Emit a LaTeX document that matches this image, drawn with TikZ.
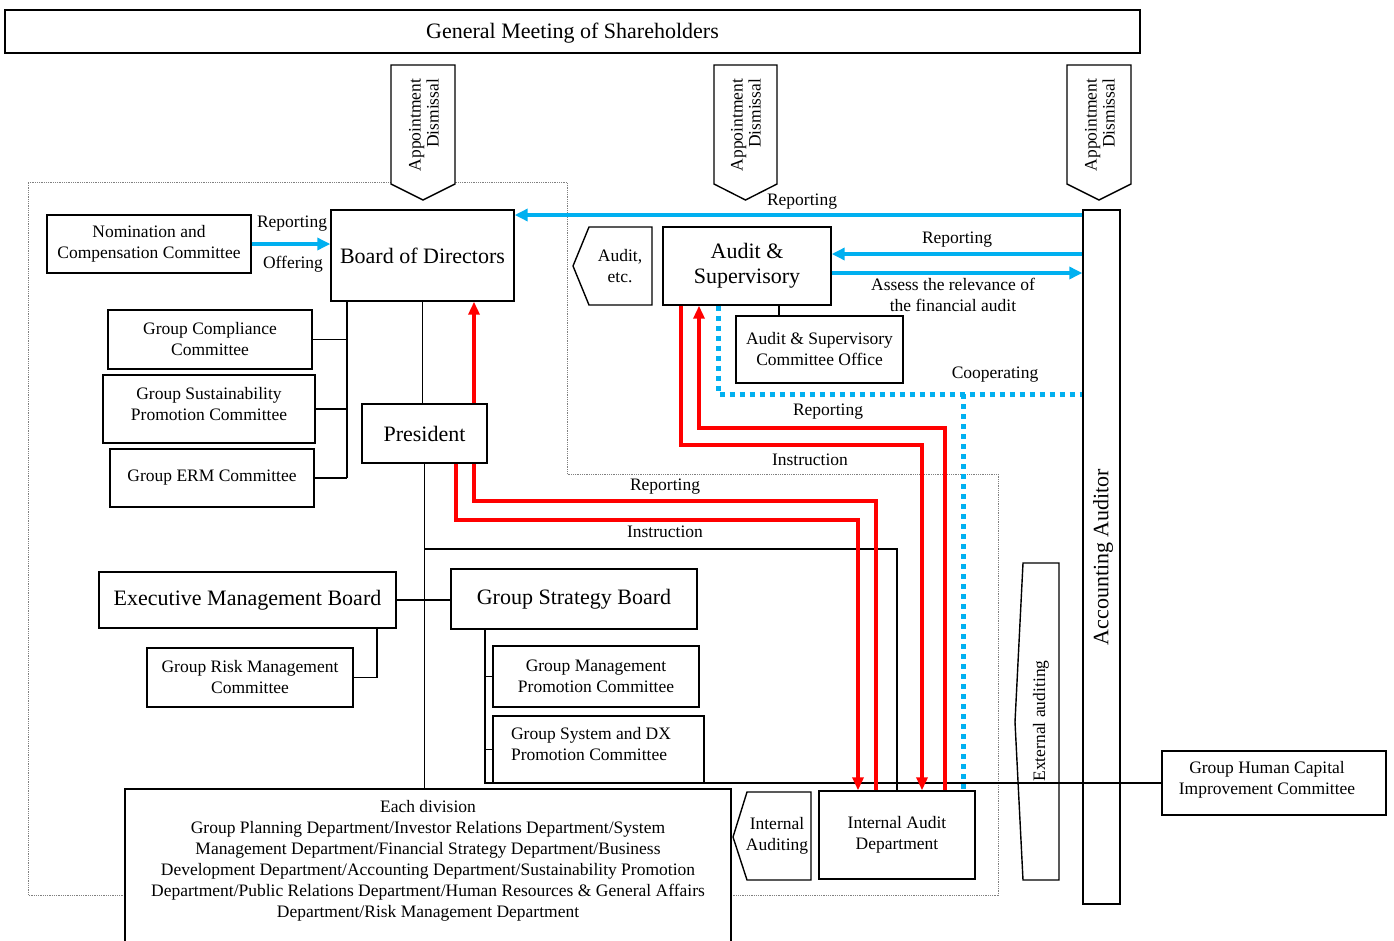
\documentclass[tikz,border=0pt]{standalone}
\usepackage{fontspec}
\setmainfont{Liberation Serif}
\usetikzlibrary{arrows.meta}
\definecolor{cblue}{HTML}{00B0F0}
\definecolor{cred}{HTML}{FF0000}
\newcommand\FontSmall{\fontsize{17.5}{21}\selectfont}
\newcommand\FontLarge{\fontsize{22}{25}\selectfont}
\newcommand\FontRot{\fontsize{17.5}{18}\selectfont}
\begin{document}
\begin{tikzpicture}[x=1pt,y=-1pt,
  box/.style={draw, line width=1.4pt, fill=white, inner sep=0pt, align=center, font=\FontSmall},
  bigbox/.style={box, font=\FontLarge},
  shp/.style={draw, line width=1.4pt, fill=white, line join=miter},
  conn/.style={draw, line width=1.2pt},
  redl/.style={draw=cred, line width=3.5pt},
  redarr/.style={redl, -{Triangle[length=13pt,width=11pt]}},
  bluearr/.style={draw=cblue, line width=3.5pt, -{Triangle[length=13pt,width=12pt]}},
  bluedot/.style={draw=cblue, line width=5pt, dash pattern=on 5pt off 5pt},
  lbl/.style={font=\FontSmall, inner sep=0pt, align=center},
  bound/.style={draw=gray, line width=0.8pt, densely dotted}
]
\useasboundingbox (0,0) rectangle (1394,940);
\fill[white] (0,0) rectangle (1394,940);
\clip (0,0) rectangle (1394,940);

% helper coordinates
\foreach \xx in {347,377,456,474,485,681,699,718,779,858,876,897,922,945,963}{\coordinate (x\xx) at (\xx,0);}
\foreach \yy in {215,254,273,394,428,445,501,520,549}{\coordinate (y\yy) at (0,\yy);}

% dotted boundary
\draw[bound] (28,182) -- (567,182) -- (567,474) -- (998,474) -- (998,895) -- (28,895) -- cycle;

% general meeting
\node[box, minimum width=1135, minimum height=43] (gm) at (572.5,31.5) {};
\node[lbl, font=\fontsize{22}{25}\selectfont] (gmt) at (572.5,33) {General Meeting of Shareholders};

% appointment pentagons
\draw[shp] (391,65) -- (455,65) -- (455,184) -- (423,200) -- (391,184) -- cycle;
\node[rotate=90, align=right, font=\FontRot] (ap1) at (424,125) {Appointment\\Dismissal};
\draw[shp] (714,65) -- (777,65) -- (777,184) -- (745.5,200) -- (714,184) -- cycle;
\node[rotate=90, align=right, font=\FontRot] (ap2) at (746,125) {Appointment\\Dismissal};
\draw[shp] (1067,65) -- (1131,65) -- (1131,184) -- (1099,200) -- (1067,184) -- cycle;
\node[rotate=90, align=right, font=\FontRot] (ap3) at (1100,125) {Appointment\\Dismissal};

% boxes
\node[box, minimum width=204, minimum height=58] (nom) at (149,244) {Nomination and\\Compensation Committee};
\node[bigbox, minimum width=183, minimum height=91] (bod) at (422.5,255.5) {Board of Directors};
\node[box, minimum width=204, minimum height=59] (gcc) at (210,339.5) {Group Compliance\\Committee};
\node[box, minimum width=212, minimum height=68] (gsp) at (209,409) {};
\node[lbl] (gspt) at (209,404) {Group Sustainability\\Promotion Committee};
\node[box, minimum width=204, minimum height=58] (erm) at (212,478) {Group ERM Committee};
\node[bigbox, minimum width=125, minimum height=59] (pres) at (424.5,433.5) {President};
\node[bigbox, minimum width=297, minimum height=56] (emb) at (247.5,600) {Executive Management Board};
\node[box, minimum width=206, minimum height=59] (grm) at (250,677.5) {Group Risk Management\\Committee};
\node[bigbox, minimum width=246, minimum height=60] (gsb) at (574,599) {Group Strategy Board};
\node[box, minimum width=206, minimum height=61] (gmp) at (596,676.5) {Group Management\\Promotion Committee};
\node[box, minimum width=211, minimum height=67] (gdx) at (598.5,749.5) {};
\node[lbl, align=left] (gdxt) at (591,744) {Group System and DX\\Promotion Committee};
\node[box, minimum width=606, minimum height=171] (div) at (428,874.5) {};
\node[lbl] (divt) at (428,861) {Each division\\Group Planning Department/Investor Relations Department/System\\Management Department/Financial Strategy Department/Business\\Development Department/Accounting Department/Sustainability Promotion\\Department/Public Relations Department/Human Resources \& General Affairs\\Department/Risk Management Department};
\node[box, minimum width=156, minimum height=88] (iad) at (897,835) {Internal Audit\\Department};
\node[bigbox, minimum width=168, minimum height=78] (as) at (747,266) {Audit \&\\Supervisory};
\node[box, minimum width=167, minimum height=67] (aso) at (819.5,349.5) {Audit \& Supervisory\\Committee Office};
\node[draw, line width=1.4pt, fill=white, inner sep=0pt, minimum width=37, minimum height=694] (aa) at (1101.5,557) {};
\node[rotate=90, font=\FontLarge, inner sep=0pt] (aat) at (1103,557) {Accounting Auditor};
\node[box, minimum width=224, minimum height=64] (ghc) at (1274,783) {};
\node[lbl] (ghct) at (1267,780) {Group Human Capital\\Improvement Committee};

% side pentagons
\draw[shp] (573,266) -- (589,227) -- (652,227) -- (652,305) -- (589,305) -- cycle;
\node[lbl] (aud) at (620,266) {Audit,\\etc.};
\draw[shp] (733,837) -- (747,792) -- (811,792) -- (811,880) -- (747,880) -- cycle;
\node[lbl] (ina) at (777,836) {Internal\\Auditing};
\draw[shp] (1023,563) -- (1059,563) -- (1059,880) -- (1023,880) -- (1015,722) -- cycle;
\node[rotate=90, font=\FontSmall, inner sep=0pt] (ext) at (1041,721) {External auditing};

% black connectors
\draw[conn] (bod.south -| x347) -- (x347 |- erm.east);
\draw[conn] (gcc.east) -- (gcc.east -| x347);
\draw[conn] (gsp.east) -- (gsp.east -| x347);
\draw[conn] (erm.east) -- (erm.east -| x347);
\draw[conn] (bod.south) -- (bod.south |- pres.north);
\draw[conn] (pres.south) -- (pres.south |- div.north);
\draw[conn] (pres.south |- y549) -- (x897 |- y549) -- (iad.north -| x897);
\draw[conn] (emb.east) -- (emb.east -| gsb.west);
\draw[conn] (emb.south -| x377) -- (x377 |- grm.east) -- (grm.east);
\draw[conn] (gsb.south -| x485) -- (x485 |- ghc.west) -- (ghc.west);
\draw[conn] (x485 |- gmp.west) -- (gmp.west);
\draw[conn] (x485 |- gdx.west) -- (gdx.west);
\draw[conn] (aso.north -| x779) -- (as.south -| x779);

% blue
\draw[bluearr] (nom.east) -- (nom.east -| bod.west);
\draw[bluearr] (aa.west |- y215) -- (bod.east |- y215);
\draw[bluearr] (aa.west |- y254) -- (as.east |- y254);
\draw[bluearr] (as.east |- y273) -- (aa.west |- y273);
\draw[bluedot] (as.south -| x718) -- (x718 |- y394) -- (aa.west |- y394);
\draw[bluedot] (x963 |- y394) -- (iad.north -| x963);

% red
\draw[redarr] (pres.north -| x474) -- (bod.south -| x474);
\draw[redarr] (pres.south -| x456) -- (x456 |- y520) -- (x858 |- y520) -- (iad.north -| x858);
\draw[redl] (iad.north -| x876) -- (x876 |- y501) -- (x474 |- y501) -- (pres.south -| x474);
\draw[redarr] (as.south -| x681) -- (x681 |- y445) -- (x922 |- y445) -- (iad.north -| x922);
\draw[redarr] (iad.north -| x945) -- (x945 |- y428) -- (x699 |- y428) -- (as.south -| x699);

% labels
\node[lbl] (l1) at (292,224) {Reporting};
\node[lbl] (l2) at (293,264) {Offering};
\node[lbl] (l3) at (802,202) {Reporting};
\node[lbl] (l4) at (957,240) {Reporting};
\node[lbl] (l5) at (953,295) {Assess the relevance of\\the financial audit};
\node[lbl] (l6) at (995,375) {Cooperating};
\node[lbl] (l7) at (828,412) {Reporting};
\node[lbl] (l8) at (810,460) {Instruction};
\node[lbl] (l9) at (665,487) {Reporting};
\node[lbl] (l10) at (665,532) {Instruction};
\end{tikzpicture}
\end{document}
